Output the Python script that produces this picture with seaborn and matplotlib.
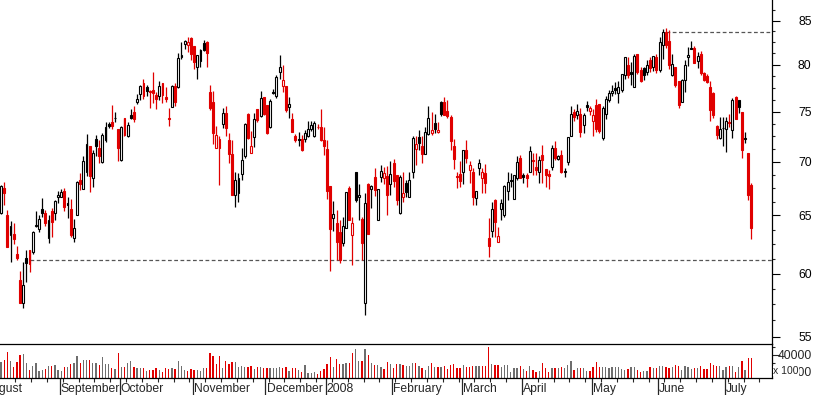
import numpy as np
import pandas as pd
import matplotlib
matplotlib.use("Agg")
import matplotlib.pyplot as plt
import matplotlib.transforms as mtransforms
from matplotlib.ticker import FixedLocator, FixedFormatter, NullFormatter
import seaborn as sns

# ------------------------------------------------------------
# daily OHLC, Aug 2007 - Jul 2008
# ------------------------------------------------------------
opens = [
    65.2, 67.5, 65.0, 63.3, 63.4, 61.6, 59.5, 57.6, 61.3, 62.0,
    61.8, 64.1, 63.8, 65.6, 65.2, 63.0, 65.4, 65.2, 66.7, 66.7,
    67.2, 66.1, 65.6, 63.0, 65.0, 68.25, 67.4, 69.0, 71.5, 68.4,
    72.2, 71.3, 70.0, 72.1, 73.7, 73.9, 74.3, 73.2, 70.2, 74.3,
    72.5, 74.6, 75.0, 76.0, 76.8, 78.0, 77.6, 77.2, 77.3, 76.7,
    76.6, 78.0, 76.5, 74.3, 75.5, 77.7, 77.6, 80.8, 82.3, 82.2,
    83.0, 82.1, 79.7, 80.4, 82.4, 82.5, 77.0, 76.0, 71.3, 72.2,
    73.7, 74.9, 72.1, 70.7, 66.9, 67.0, 68.8, 70.5, 74.8, 70.8,
    72.4, 75.3, 74.5, 76.5, 75.7, 73.4, 77.1, 76.6, 79.2, 77.7,
    77.7, 75.5, 74.2, 72.5, 72.2, 72.2, 72.2, 72.5, 73.2, 72.5,
    73.45, 73.4, 72.1, 71.2, 67.7, 64.8, 64.3, 63.5, 62.6, 63.9,
    67.5, 63.3, 69.0, 66.65, 64.7, 57.6, 67.9, 67.4, 68.5, 64.6,
    68.5, 68.4, 68.6, 67.9, 69.9, 68.7, 65.2, 66.7, 68.0, 66.7,
    69.0, 71.2, 72.4, 71.5, 70.7, 72.7, 72.8, 73.8, 72.9, 76.0,
    76.0, 75.1, 74.4, 71.5, 68.6, 68.8, 69.0, 71.1, 69.2, 69.0,
    66.6, 69.4, 68.4, 68.9, 63.0, 63.6, 66.4, 62.7, 65.6, 65.0,
    67.2, 68.3, 66.5, 68.4, 70.4, 68.7, 68.7, 69.0, 70.15, 69.5,
    69.0, 70.6, 69.3, 68.8, 69.5, 71.3, 70.3, 70.6, 69.1, 70.0,
    72.5, 75.0, 74.6, 74.8, 73.6, 75.7, 75.1, 74.0, 75.7, 75.8,
    72.3, 74.8, 76.2, 76.9, 77.5, 76.9, 77.3, 78.9, 80.0, 79.2,
    77.6, 81.2, 79.4, 79.6, 79.2, 80.5, 79.8, 80.8, 79.4, 82.2,
    83.7, 82.7, 78.9, 79.8, 78.2, 76.0, 78.3, 80.9, 81.9, 81.9,
    80.4, 81.2, 79.1, 78.8, 77.6, 76.9, 73.5, 72.3, 73.35, 73.2,
    73.95, 73.1, 76.5, 76.2, 75.0, 72.3, 70.8, 67.8,
]
highs = [
    67.8, 68.1, 65.5, 64.5, 64.3, 62.3, 60.2, 61.0, 62.0, 62.0,
    63.6, 65.4, 65.0, 66.6, 65.5, 65.0, 65.7, 66.4, 67.2, 67.4,
    67.5, 66.7, 66.5, 64.7, 68.2, 68.9, 70.5, 72.7, 71.5, 71.1,
    72.6, 72.1, 72.8, 73.9, 73.9, 75.7, 75.0, 73.2, 73.5, 74.3,
    73.9, 75.3, 75.6, 76.8, 77.8, 78.4, 77.8, 77.3, 79.2, 77.0,
    78.2, 78.0, 77.6, 75.4, 77.8, 78.0, 81.3, 82.6, 82.8, 83.1,
    83.1, 82.1, 81.1, 81.7, 82.8, 82.7, 77.8, 77.2, 73.5, 72.5,
    75.4, 75.6, 72.8, 72.1, 69.0, 68.9, 71.3, 73.8, 74.9, 73.0,
    74.9, 75.3, 77.2, 76.5, 75.7, 76.3, 77.4, 78.9, 81.1, 80.0,
    77.7, 76.5, 74.9, 72.7, 72.9, 72.6, 73.1, 74.0, 74.0, 74.0,
    73.7, 75.3, 73.4, 72.1, 67.7, 66.3, 65.5, 64.6, 64.9, 67.1,
    67.7, 64.9, 69.0, 67.9, 64.9, 67.0, 68.0, 67.8, 69.4, 67.4,
    69.7, 69.5, 69.6, 70.1, 70.3, 68.7, 68.7, 69.0, 68.3, 69.0,
    72.5, 72.5, 73.1, 72.5, 73.4, 75.6, 75.0, 74.8, 73.9, 76.1,
    76.5, 76.2, 74.6, 72.2, 69.0, 70.1, 71.1, 72.1, 70.1, 69.4,
    67.2, 70.3, 69.4, 69.8, 64.8, 66.2, 66.5, 64.0, 66.5, 67.8,
    69.0, 68.9, 68.7, 70.5, 70.6, 68.9, 68.9, 71.5, 70.8, 70.8,
    70.5, 71.6, 69.3, 69.2, 71.6, 72.0, 70.6, 71.1, 69.4, 72.4,
    75.6, 75.3, 75.8, 75.4, 74.9, 76.1, 75.6, 75.3, 76.3, 75.8,
    75.6, 76.6, 77.3, 77.8, 78.1, 78.2, 79.0, 80.9, 80.9, 80.3,
    81.2, 81.2, 79.8, 79.8, 80.5, 80.9, 81.0, 81.2, 83.1, 84.0,
    84.1, 83.9, 81.2, 79.8, 78.2, 78.4, 80.5, 82.0, 82.7, 82.1,
    81.4, 81.5, 79.2, 79.0, 78.2, 77.0, 73.6, 74.4, 74.4, 74.4,
    74.8, 76.4, 76.6, 76.2, 75.0, 72.9, 70.8, 68.0,
]
lows = [
    65.1, 65.9, 62.2, 61.0, 62.5, 61.1, 57.6, 57.2, 59.3, 60.1,
    61.6, 64.0, 63.5, 64.9, 64.1, 62.6, 63.1, 64.6, 66.1, 66.7,
    65.4, 64.8, 63.1, 62.7, 65.0, 67.3, 67.4, 68.6, 67.1, 67.6,
    70.5, 69.9, 69.9, 71.9, 73.3, 73.2, 73.9, 70.1, 70.1, 72.5,
    72.4, 74.2, 73.9, 75.8, 76.2, 76.3, 76.6, 75.4, 75.9, 75.3,
    76.2, 75.9, 76.0, 73.5, 75.5, 75.6, 77.5, 80.6, 81.7, 81.4,
    80.5, 79.5, 78.4, 79.8, 81.5, 79.7, 75.2, 71.7, 71.3, 67.8,
    73.3, 72.5, 69.9, 66.9, 65.8, 66.2, 68.3, 70.4, 72.2, 70.8,
    71.4, 73.9, 74.4, 74.6, 72.7, 73.3, 76.8, 76.4, 78.4, 77.0,
    75.0, 74.3, 72.9, 71.9, 71.5, 71.0, 71.9, 72.4, 73.0, 72.4,
    73.2, 72.0, 70.6, 66.5, 60.2, 63.6, 61.1, 60.9, 62.3, 63.9,
    64.6, 60.7, 66.2, 64.6, 61.1, 56.7, 63.4, 65.7, 66.8, 64.6,
    68.1, 67.9, 65.0, 66.9, 67.6, 65.9, 65.1, 66.2, 66.7, 66.7,
    68.4, 69.7, 71.1, 69.9, 70.7, 72.6, 72.6, 72.8, 72.8, 74.5,
    74.6, 74.3, 71.1, 69.3, 67.5, 67.6, 67.9, 69.9, 68.0, 65.9,
    65.9, 68.7, 67.0, 67.0, 61.4, 63.1, 63.1, 62.7, 64.6, 64.9,
    66.4, 67.6, 66.5, 68.25, 68.4, 68.0, 67.6, 69.0, 68.7, 68.7,
    68.0, 68.0, 67.6, 67.4, 69.2, 70.2, 70.2, 68.9, 68.5, 69.7,
    72.5, 74.0, 74.2, 72.4, 72.8, 75.1, 74.6, 72.5, 72.9, 72.8,
    72.1, 74.2, 76.0, 76.6, 76.8, 75.9, 77.0, 78.4, 78.6, 77.8,
    77.6, 79.0, 78.1, 78.3, 78.9, 79.2, 79.3, 79.1, 79.2, 80.6,
    81.9, 79.5, 78.8, 77.6, 75.4, 76.0, 77.0, 79.9, 81.7, 80.2,
    79.6, 78.9, 78.2, 78.0, 74.0, 74.3, 72.2, 72.2, 71.5, 70.9,
    73.4, 72.3, 74.2, 74.9, 70.4, 71.8, 66.4, 62.9,
]
closes = [
    67.7, 67.0, 62.2, 64.1, 62.9, 61.3, 57.6, 59.1, 60.9, 60.8,
    63.5, 64.15, 64.7, 65.2, 64.3, 64.6, 64.4, 66.3, 66.9, 67.1,
    65.8, 65.9, 63.3, 63.9, 68.1, 67.85, 70.1, 71.7, 68.6, 70.8,
    71.5, 70.5, 72.6, 73.4, 73.55, 73.5, 74.35, 71.3, 73.4, 72.6,
    73.6, 74.3, 74.2, 76.3, 77.7, 76.6, 77.2, 77.0, 76.9, 76.3,
    77.7, 76.7, 76.3, 74.2, 77.7, 76.0, 80.7, 81.1, 82.7, 82.6,
    81.2, 80.3, 81.1, 81.6, 81.65, 81.3, 75.4, 72.8, 72.6, 71.3,
    74.9, 73.3, 70.7, 66.9, 68.3, 68.4, 70.2, 73.7, 72.3, 71.5,
    74.2, 74.1, 76.4, 74.8, 72.8, 76.1, 76.9, 78.7, 79.8, 78.3,
    75.2, 75.8, 72.9, 72.1, 72.15, 71.1, 72.8, 73.2, 73.6, 73.8,
    73.4, 72.1, 71.5, 67.2, 63.8, 65.1, 62.7, 61.1, 64.1, 67.1,
    64.6, 64.3, 66.4, 66.85, 62.6, 66.1, 63.4, 67.7, 67.3, 67.4,
    69.1, 68.9, 66.9, 68.8, 68.2, 66.4, 68.5, 67.0, 67.1, 68.25,
    72.3, 71.7, 71.8, 70.7, 72.9, 74.3, 73.1, 73.2, 73.1, 74.7,
    74.6, 74.5, 72.0, 70.3, 68.5, 68.2, 71.1, 70.4, 69.7, 66.7,
    67.2, 69.9, 69.0, 68.0, 62.3, 65.6, 64.4, 63.2, 66.1, 67.7,
    68.1, 68.2, 68.7, 70.0, 68.4, 68.5, 68.45, 71.0, 70.1, 69.2,
    70.2, 70.15, 68.7, 68.6, 71.3, 70.4, 70.5, 69.0, 69.05, 72.4,
    74.8, 74.4, 75.1, 72.9, 74.6, 75.5, 75.4, 74.6, 73.2, 73.0,
    75.4, 76.3, 76.9, 77.2, 77.3, 77.6, 79.0, 80.9, 78.9, 78.95,
    81.0, 79.2, 78.2, 78.9, 80.0, 79.6, 81.0, 79.4, 82.6, 83.7,
    82.2, 80.0, 80.1, 77.8, 75.7, 78.3, 80.0, 81.1, 81.7, 80.2,
    80.95, 79.1, 78.3, 78.1, 75.2, 74.6, 72.6, 73.2, 73.3, 74.0,
    73.85, 76.2, 74.2, 75.5, 71.1, 72.25, 66.9, 63.9,
]
# volume, in hundreds of shares
volumes = [
    31400, 33500, 43700, 32600, 25300, 31400, 39600, 40800, 30200, 21200,
    26100, 30200, 20400, 21200, 22000, 26100, 26100, 27300, 21200, 20400,
    24500, 25300, 28600, 29400, 38400, 29400, 33500, 33500, 33500, 30200,
    30200, 27300, 37600, 28100, 28100, 23200, 22400, 42500, 25300, 24500,
    29400, 32600, 25300, 23200, 23200, 23200, 20400, 21200, 21200, 23200,
    21200, 19100, 23200, 22000, 23200, 22000, 32200, 26100, 21200, 20000,
    22000, 21200, 21200, 20400, 23200, 24100, 42500, 38400, 28600, 38400,
    23200, 32600, 28600, 31400, 31400, 25300, 26100, 25300, 25300, 26100,
    22000, 25300, 25300, 23200, 23200, 23200, 23200, 23200, 25300, 23200,
    24500, 20400, 23200, 23200, 21200, 19100, 27300, 17100, 17100, 18300,
    15900, 20400, 22000, 28600, 36700, 25300, 34300, 28600, 28600, 29400,
    29400, 41600, 46500, 32600, 32600, 46500, 39600, 29400, 27300, 27300,
    24500, 22000, 31400, 28600, 24100, 28600, 28600, 27300, 26100, 26100,
    30200, 30200, 26100, 23200, 21200, 26100, 30200, 24500, 24500, 25300,
    26100, 22000, 27300, 28600, 23200, 23200, 27300, 25300, 25300, 26100,
    26100, 26100, 26100, 26100, 49800, 28600, 27300, 27300, 25300, 27300,
    27300, 19100, 23200, 23200, 26100, 22000, 20400, 26100, 21200, 19100,
    20400, 29400, 23200, 19100, 23200, 23200, 23200, 25300, 23200, 27300,
    32600, 21200, 23200, 23200, 23200, 20400, 20400, 25300, 31400, 25300,
    25300, 24500, 23200, 25300, 24500, 25300, 22000, 21200, 22000, 25300,
    24500, 21200, 19100, 20400, 20400, 24500, 23200, 23200, 26100, 26100,
    25300, 23200, 25300, 27300, 26100, 21200, 26100, 25300, 22000, 23200,
    23200, 26100, 22000, 22000, 29400, 27300, 26100, 26100, 21200, 25300,
    26100, 26100, 19100, 24500, 32600, 21200, 35500, 35500,
]

# month labels and the bar index each month starts on
month_names = ["August", "September", "October", "November", "December", "2008",
               "February", "March", "April", "May", "June", "July"]
month_starts = [-5, 19, 38, 61, 84, 103, 124, 146, 165, 187, 208, 229]

price_ticks = [55, 60, 65, 70, 75, 80, 85]
vol_ticks = [20000, 40000]

# horizontal support / resistance lines: level and bar they start from
support_level, support_from = 61.1, 9
resist_level, resist_from = 83.65, 210

RED = "#e00000"
BLACK = "#000000"
GREY = "#6e6e6e"

sns.set_style("white")
plt.rcParams["font.family"] = ["Liberation Sans", "DejaVu Sans"]

df = pd.DataFrame({"open": opens, "high": highs, "low": lows,
                   "close": closes, "volume": volumes})
df["idx"] = np.arange(len(df))
df["down"] = df["close"] < df["close"].shift(1)
df["hollow"] = df["close"] >= df["open"]
df["trend"] = np.where(df["down"], "down", "up")

# ========================
# FIGURE LAYOUT (pixel based)
# ========================
W, H = 817, 395
fig = plt.figure(figsize=(W / 100, H / 100), dpi=100)
ax = fig.add_axes([0, 1 - 344.3 / H, 772 / W, 344.3 / H])
axv = fig.add_axes([0, 1 - 377.7 / H, 772 / W, 33.4 / H], sharex=ax)
axv.patch.set_alpha(0)

xmin, xmax = -0.32, 243.5

# ========================
# CANDLES
# ========================
cols = np.where(df["down"], RED, BLACK)
ax.vlines(df["idx"], df["low"], df["high"], colors=cols, lw=0.9, zorder=2)
body_lo = np.minimum(df["open"], df["close"])
body_h = np.maximum((df["close"] - df["open"]).abs(), 0.03)
faces = np.where(df["hollow"], "white", cols)
ax.bar(df["idx"], body_h, bottom=body_lo, width=0.62, color=faces,
       edgecolor=cols, linewidth=0.8, zorder=3)

dash = (0, (3, 2))
ax.hlines(support_level, support_from, xmax, colors="#555555", lw=0.9,
          linestyles=dash, zorder=1)
ax.hlines(resist_level, resist_from, xmax, colors="#555555", lw=0.9,
          linestyles=dash, zorder=1)

ax.set_yscale("log")
ax.set_ylim(54.43, 87.46)
ax.yaxis.tick_right()
ax.yaxis.set_major_locator(FixedLocator(price_ticks))
ax.yaxis.set_major_formatter(FixedFormatter([str(t) for t in price_ticks]))
minor = [v for v in np.arange(53.75, 88, 1.25) if v not in price_ticks]
ax.yaxis.set_minor_locator(FixedLocator(minor))
ax.yaxis.set_minor_formatter(NullFormatter())
ax.tick_params(axis="y", which="major", direction="out", length=5.5, width=0.8,
               pad=23, labelsize=8.7, colors="black")
ax.tick_params(axis="y", which="minor", direction="out", length=2.4, width=0.8)
for t in ax.get_yticklabels():
    t.set_ha("right")
ax.tick_params(axis="x", which="both", bottom=False, labelbottom=False)
for s in ["left", "top", "bottom"]:
    ax.spines[s].set_visible(False)
ax.spines["right"].set_color("black")
ax.spines["right"].set_linewidth(0.9)

# ========================
# VOLUME
# ========================
sns.barplot(data=df, x="idx", y="volume", hue="trend",
            palette={"up": GREY, "down": RED}, native_scale=True,
            width=0.42, dodge=False, errorbar=None, legend=False,
            saturation=1, ax=axv)
for p in axv.patches:
    p.set_antialiased(False)
    p.set_linewidth(0)
axv.set_ylim(11780, 52760)
axv.set_xlabel("")
axv.set_ylabel("")
axv.yaxis.tick_right()
axv.yaxis.set_major_locator(FixedLocator(vol_ticks))
axv.yaxis.set_major_formatter(FixedFormatter([str(t) for t in vol_ticks]))
axv.yaxis.set_minor_locator(FixedLocator([30000, 50000]))
axv.tick_params(axis="y", which="major", direction="out", length=5.5, width=0.8,
                pad=23, labelsize=8.7)
axv.tick_params(axis="y", which="minor", direction="out", length=2.4, width=0.8)
for t in axv.get_yticklabels():
    t.set_ha("right")
axv.spines["left"].set_visible(False)
for s in ["right", "bottom", "top"]:
    axv.spines[s].set_color("black")
    axv.spines[s].set_linewidth(0.9)

# month separators and weekly ticks
seps = [m - 0.5 for m in month_starts]
axv.xaxis.set_major_locator(FixedLocator(seps))
axv.xaxis.set_major_formatter(NullFormatter())
axv.xaxis.set_minor_locator(FixedLocator(np.arange(-0.5, xmax, 5)))
axv.tick_params(axis="x", which="major", direction="out", length=12.6,
                width=0.9, bottom=True)
axv.tick_params(axis="x", which="minor", direction="out", length=3,
                width=0.8, bottom=True)
trans = mtransforms.blended_transform_factory(axv.transData, axv.transAxes)
for name, sx in zip(month_names, seps):
    axv.text(sx + 0.35, -0.34, name, transform=trans, ha="left", va="center",
             fontsize=8.7)

# unit note sits on top of the lower volume label, as in the original
fig.text(773 / W, 1 - 371 / H, "x 100", ha="left", va="center", fontsize=7.5,
         bbox=dict(facecolor="white", edgecolor="none", pad=0.3))

ax.set_xlim(xmin, xmax)
fig.savefig("out.png", dpi=100, facecolor="white")
